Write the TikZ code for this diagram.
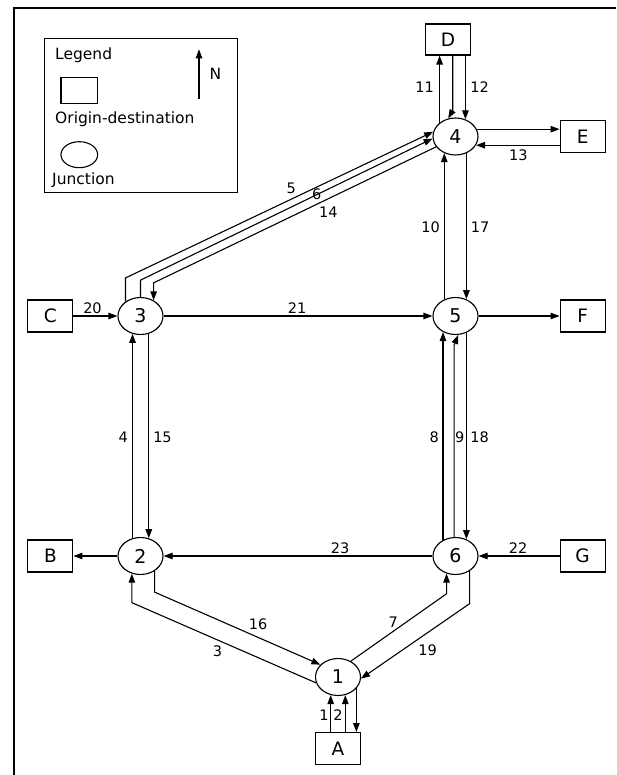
\documentclass[tikz,border=0pt]{standalone}
\usepackage{fontspec}
\setmainfont{DejaVu Sans}
\usetikzlibrary{shapes.geometric, positioning, arrows.meta}

\begin{document}
\begin{tikzpicture}
  [x=1pt,y=-1pt,
   junc/.style={ellipse,draw,line width=1.1pt,minimum width=45pt,minimum height=37pt,inner sep=0pt,font=\fontsize{19}{19}\selectfont},
   od/.style={rectangle,draw,line width=1.1pt,minimum width=45pt,minimum height=32pt,inner sep=0pt,font=\fontsize{18.5}{18.5}\selectfont},
   lbl/.style={inner sep=0pt,font=\fontsize{14.5}{14.5}\selectfont},
   legtext/.style={anchor=base west,inner sep=0pt,font=\fontsize{15.5}{15.5}\selectfont},
   flow/.style={-{Triangle[length=9pt,width=6.5pt]},line width=1.1pt}]

  \useasboundingbox (0,0) rectangle (616,775);
  \draw[line width=1.5pt] (616,8) -| (14,775);

  % legend
  \node[draw,line width=1.1pt,minimum width=193pt,minimum height=154.5pt] (legend) at (140.8,115.5) {};
  \node[legtext] (legtitle) at (55,59.3) {Legend};
  \node[od,minimum width=36.7pt,minimum height=26pt] (legod) at (79.3,90.3) {};
  \node[legtext] (legodtext) at (55,123.3) {Origin-destination};
  \node[junc,minimum width=36.7pt,minimum height=26pt] (legjunc) at (79.3,154.7) {};
  \node[legtext] (legjunctext) at (52,185) {Junction};
  \coordinate (ntail) at (199,98.7);
  \coordinate (nhead) at (199,49.3);
  \draw[flow] (ntail) -- (nhead);
  \node[legtext] (north) at (209.3,80) {N};

  % junctions
  \node[junc] (n1) at (338,677) {1};
  \node[junc] (n2) at (140.5,556) {2};
  \node[junc] (n3) at (140.5,316) {3};
  \node[junc] (n4) at (455.5,136.5) {4};
  \node[junc] (n5) at (455.5,316) {5};
  \node[junc] (n6) at (455.5,556) {6};

  % origins and destinations
  \node[od] (A) [below=36pt of n1] {A};
  \node[od] (B) [left=44pt of n2] {B};
  \node[od] (C) [left=44pt of n3] {C};
  \node[od,minimum height=31pt] (D) at (448,39.5) {D};
  \node[od] (E) [right=81pt of n4] {E};
  \node[od] (F) [right=81pt of n5] {F};
  \node[od] (G) [right=81pt of n6] {G};

  % flows
  \draw[flow] (n1.248 |- A.north) -- (n1.248) node[lbl] (l1) at (324,715) {1};
  \draw[flow] (n1.-68 |- A.north) -- (n1.-68) node[lbl] (l2) at (338,715) {2};
  \draw[flow] (n1.-32) -- (n1.-32 |- A.north);
  \draw[flow] (n1.195) -- ([yshift=-29pt]n2.244) -- (n2.244) node[lbl] (l3) at (217.5,651.7) {3};
  \draw[flow] (n2.114) -- (n3.-114) node[lbl] (l4) at (123.2,437) {4};
  \draw[flow] (n3.136) -- ++(0,-23.6) -- (n4.168) node[lbl] (l5) at (291.2,188.7) {5};
  \draw[flow] (n3.north) -- ++(0,-16.8) -- (n4.185) node[lbl] (l6) at (316.7,193.8) {6};
  \draw[flow] (n1.51) -- ([yshift=-20.2pt]n6.243) -- (n6.243) node[lbl] (l7) at (393.3,622.5) {7};
  \draw[flow] (n6.128) -- (n5.-128) node[lbl] (l8) at (434.3,437) {8};
  \draw[flow] (n6.94) -- ++(0,-192) -- (n5.-82) node[lbl] (l9) at (459.7,437) {9};
  \draw[flow] (n5.124) -- (n4.-124) node[lbl] (l10) at (430.5,227) {10};
  \draw[flow] (n4.139) -- (n4.139 |- D.south) node[lbl] (l11) at (424.7,87) {11};
  \draw[flow] ([xshift=4.7pt]D.south) -- ++(0,55) -- (n4.112);
  \draw[flow] (n4.60 |- D.south) -- (n4.60) node[lbl] (l12) at (479.5,87) {12};
  \draw[flow] (n4.19) -- (n4.19 -| E.west);
  \draw[flow] (n4.-23 -| E.west) -- (n4.-23) node[lbl] (l13) at (518.3,155) {13};
  \draw[flow] (n4.208) -- ([yshift=17.5pt]n3.50) -- (n3.50) node[lbl] (l14) at (328.3,212) {14};
  \draw[flow] (n3.-65) -- (n2.65) node[lbl] (l15) at (162.5,437) {15};
  \draw[flow] (n2.-47) -- ++(0,21) -- (n1.145) node[lbl] (l16) at (258,624.5) {16};
  \draw[flow] (n4.-57) -- (n5.57) node[lbl] (l17) at (480,227) {17};
  \draw[flow] (n5.-57) -- (n6.57) node[lbl] (l18) at (479.5,437) {18};
  \draw[flow] (n6.-47) -- ++(0,32.6) -- (n1.-4) node[lbl] (l19) at (427.7,649.8) {19};
  \draw[flow] (C) -- (n3) node[lbl] (l20) at (92.5,308) {20};
  \draw[flow] (n3) -- (n5) node[lbl] (l21) at (297,308) {21};
  \draw[flow] (n5) -- (F);
  \draw[flow] (G) -- (n6) node[lbl] (l22) at (518,548.3) {22};
  \draw[flow] (n6) -- (n2) node[lbl] (l23) at (340,548.3) {23};
  \draw[flow] (n2) -- (B);
\end{tikzpicture}
\end{document}
